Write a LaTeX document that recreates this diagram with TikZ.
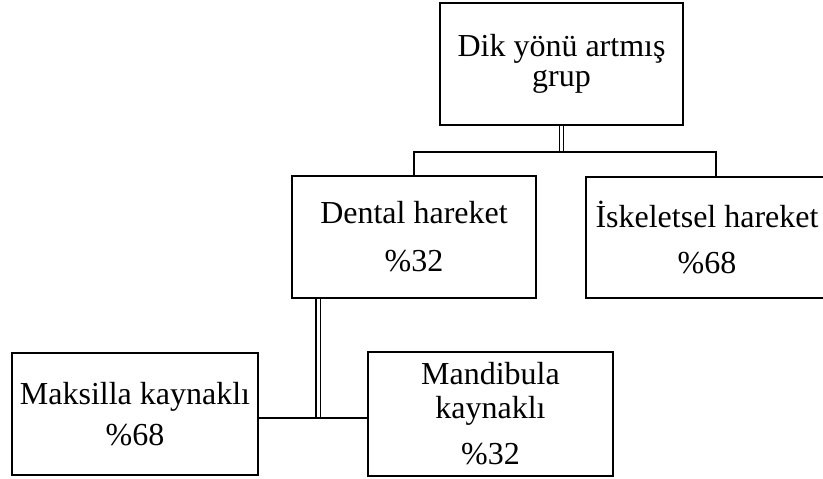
\documentclass[tikz,border=0pt]{standalone}
\usepackage{fontspec}
\setmainfont{Liberation Serif}
\begin{document}
\begin{tikzpicture}[x=1pt,y=1pt]
\definecolor{drawColor}{RGB}{0,0,0}
\tikzset{
  boxNode/.style={draw=drawColor,line width=1.6pt,inner sep=0pt,align=center,
    font=\fontsize{32}{34}\selectfont},
  linkLine/.style={draw=drawColor,line width=1.5pt},
  doubleLine/.style={draw=drawColor,double=white,double distance=3pt,line width=1.2pt}
}
\path[use as bounding box] (0,0) rectangle (823,479);

\node[boxNode,minimum width=243pt,minimum height=122pt] (top) at (561.5,415) {Dik yönü artmış\\[-4pt]grup};

\node[boxNode,minimum width=244pt,minimum height=122pt] (dental) at (414,242) {Dental hareket\\[14pt]\%32};

\node[boxNode,minimum width=242pt,minimum height=121pt] (isk) at (707,241.5) {İskeletsel hareket\\[12pt]\%68};

\node[boxNode,minimum width=246pt,minimum height=122pt] (maks) at (135,65) {Maksilla kaynaklı\\[7pt]\%68};

\node[boxNode,minimum width=245pt,minimum height=124pt] (mand) at (490.5,65) {Mandibula\\kaynaklı\\[12pt]\%32};

\coordinate (bar) at (561.5,327);
\coordinate (join) at (318,61);

\draw[doubleLine] (top.south) -- (bar);
\draw[linkLine] (dental.north) |- ([xshift=9pt]isk.north |- bar) -- ([xshift=9pt]isk.north);

\draw[doubleLine] (join |- dental.south) -- (join);
\draw[linkLine] (maks.east |- join) -- (mand.west |- join);
\end{tikzpicture}
\end{document}
